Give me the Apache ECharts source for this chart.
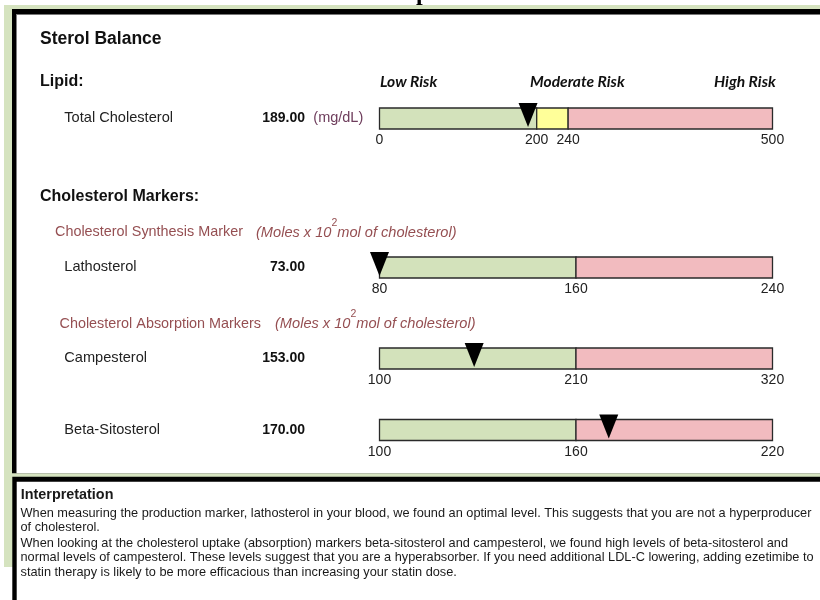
<!DOCTYPE html>
<html><head><meta charset="utf-8">
<script src="https://cdn.jsdelivr.net/npm/echarts@6/dist/echarts.min.js"></script>
<style>html,body{margin:0;padding:0;background:#fff}#c{width:820px;height:600px}</style>
</head><body><div id="c"></div>
<script>
// ---------- data ----------
const markerNames = ['Total Cholesterol', 'Lathosterol', 'Campesterol', 'Beta-Sitosterol'];
const markerValues = [189.00, 73.00, 153.00, 170.00];
const markerUnits = ['(mg/dL)', '', '', ''];
const zoneBounds = [[0, 200, 240, 500], [80, 160, 240], [100, 210, 320], [100, 160, 220]];
const zoneRisk = [[0, 1, 2], [0, 2], [0, 2], [0, 2]];
const tickLabels = [[0, 200, 240, 500], [80, 160, 240], [100, 210, 320], [100, 160, 220]];
const riskLabels = ['Low Risk', 'Moderate Risk', 'High Risk'];
const sectionTitles = ['Sterol Balance', 'Lipid:', 'Cholesterol Markers:'];
const markerGroups = ['Cholesterol Synthesis Marker', 'Cholesterol Absorption Markers'];
const unitNote = ['(Moles x 10', '2', 'mol of cholesterol)'];
const interpretationTitle = 'Interpretation';
const interpretationLines = [
  'When measuring the production marker, lathosterol in your blood, we found an optimal level. This suggests that you are not a hyperproducer',
  'of cholesterol.',
  'When looking at the cholesterol uptake (absorption) markers beta-sitosterol and campesterol, we found high levels of beta-sitosterol and',
  'normal levels of campesterol. These levels suggest that you are a hyperabsorber. If you need additional LDL-C lowering, adding ezetimibe to',
  'statin therapy is likely to be more efficacious than increasing your statin dose.'
];

// ---------- layout / style ----------
const SANS = '"Liberation Sans", Arial, sans-serif';
const riskColors = ['#d3e2bb', '#ffff99', '#f2bbbf'];
const barTops = [108, 257, 348, 419.5];
const barH = 21, barLeft = 379.5, barW = 393;
const rowY = [118, 266.7, 357.8, 430];
const groupY = [232.5, 324];
const groupX = [55, 59.5];
const noteX = [256, 275];
const riskX = [380, 530, 714];
const lineY = [513, 527.5, 543, 557.5, 572];

const chart = echarts.init(document.getElementById('c'), null, {renderer: 'canvas'});

const grids = [], xAxes = [], yAxes = [], series = [];
zoneBounds.forEach((b, i) => {
  const min = b[0], max = b[b.length - 1];
  grids.push({left: barLeft, top: barTops[i], width: barW, height: barH, containLabel: false});
  xAxes.push({
    type: 'value', gridIndex: i, min: min, max: max,
    axisLine: {show: false}, axisTick: {show: false}, splitLine: {show: false},
    axisLabel: {customValues: tickLabels[i], fontSize: 14, color: '#222', fontFamily: SANS, margin: 4.5}
  });
  yAxes.push({type: 'value', gridIndex: i, min: 0, max: 1, show: false});
  const zones = [];
  for (let k = 0; k < b.length - 1; k++) zones.push([b[k], b[k + 1], zoneRisk[i][k]]);
  series.push({
    type: 'custom', xAxisIndex: i, yAxisIndex: i, silent: true, z: 2,
    dimensions: ['start', 'end', 'risk'],
    encode: {x: ['start', 'end']},
    data: zones,
    renderItem: function (params, api) {
      const p0 = api.coord([api.value(0), 1]);
      const p1 = api.coord([api.value(1), 0]);
      return {
        type: 'rect',
        shape: {x: p0[0], y: p0[1], width: p1[0] - p0[0], height: p1[1] - p0[1]},
        style: {fill: riskColors[api.value(2)], stroke: '#2a2a2a', lineWidth: 1.3}
      };
    }
  });
  const v = Math.min(max, Math.max(min, markerValues[i]));
  series.push({
    type: 'scatter', xAxisIndex: i, yAxisIndex: i, silent: true, clip: false, z: 5,
    symbol: 'path://M0,0L20,0L10,24Z', symbolSize: [19, 24], symbolOffset: [0, -14],
    itemStyle: {color: '#000', opacity: 1},
    data: [[v, 0]]
  });
});

function txt(x, y, text, font, fill, align) {
  return {
    type: 'text', x: x, y: y, z: 1, silent: true,
    style: {text: text, font: font, fill: fill, textAlign: align || 'left', align: align || 'left',
            textVerticalAlign: 'middle', verticalAlign: 'middle'}
  };
}

const elems = [
  {type: 'rect', z: 0, silent: true, shape: {x: 4, y: 5, width: 816, height: 562}, style: {fill: '#d5e3bf'}},
  {type: 'rect', z: 0, silent: true, shape: {x: 12, y: 9, width: 808, height: 464.3}, style: {fill: '#000'}},
  {type: 'rect', z: 0, silent: true, shape: {x: 16.5, y: 14, width: 803.5, height: 459.3}, style: {fill: '#fff'}},
  {type: 'rect', z: 0, silent: true, shape: {x: 16.5, y: 14, width: 803.5, height: 1}, style: {fill: '#777'}},
  {type: 'rect', z: 0, silent: true, shape: {x: 12.3, y: 476.7, width: 807.7, height: 123.3}, style: {fill: '#000'}},
  {type: 'rect', z: 0, silent: true, shape: {x: 16.7, y: 481.7, width: 803.3, height: 118.3}, style: {fill: '#fff'}},
  {type: 'text', x: 416, y: 5.5, z: 1, silent: true,
   style: {text: 'p', font: 'bold 24px "Liberation Serif", serif', fill: '#000', textAlign: 'left', align: 'left',
           textVerticalAlign: 'bottom', verticalAlign: 'bottom'}},
  txt(40, 38.8, sectionTitles[0], 'bold 17.5px ' + SANS, '#111'),
  txt(40, 82, sectionTitles[1], 'bold 16px ' + SANS, '#111'),
  txt(40, 196.5, sectionTitles[2], 'bold 16px ' + SANS, '#111')
];
riskLabels.forEach((r, k) => elems.push(txt(riskX[k], 81.8, r, 'italic bold 15.6px Lato, sans-serif', '#111')));
markerNames.forEach((n, i) => {
  elems.push(txt(64.3, rowY[i], n, '14.6px ' + SANS, '#222'));
  elems.push(txt(305, rowY[i] + 0.6, markerValues[i].toFixed(2), 'bold 14px ' + SANS, '#111', 'right'));
  if (markerUnits[i]) elems.push(txt(313.3, rowY[i], markerUnits[i], '14.5px ' + SANS, '#6e3d5c'));
});
markerGroups.forEach((g, k) => {
  elems.push(txt(groupX[k], groupY[k], g, '14.4px ' + SANS, '#954f52'));
  elems.push({
    type: 'text', x: noteX[k], y: groupY[k], z: 1, silent: true,
    style: {
      text: '{i|' + unitNote[0] + '}{s|' + unitNote[1] + '}{i|' + unitNote[2] + '}',
      textAlign: 'left', align: 'left', textVerticalAlign: 'middle', verticalAlign: 'middle',
      rich: {
        i: {font: 'italic 14.6px ' + SANS, fontStyle: 'italic', fontSize: 14.6, fontFamily: SANS, fill: '#954f52', color: '#954f52', lineHeight: 30},
        s: {fontSize: 10.5, fontFamily: SANS, fill: '#954f52', color: '#954f52', lineHeight: 11, verticalAlign: 'top'}
      }
    }
  });
});
elems.push(txt(20.7, 495, interpretationTitle, 'bold 14.4px ' + SANS, '#1a1a1a'));
interpretationLines.forEach((l, k) => elems.push(txt(20.5, lineY[k], l, '12.75px ' + SANS, '#1a1a1a')));

chart.setOption({
  animation: false,
  backgroundColor: '#fff',
  grid: grids, xAxis: xAxes, yAxis: yAxes, series: series,
  graphic: {elements: elems}
});
</script></body></html>
